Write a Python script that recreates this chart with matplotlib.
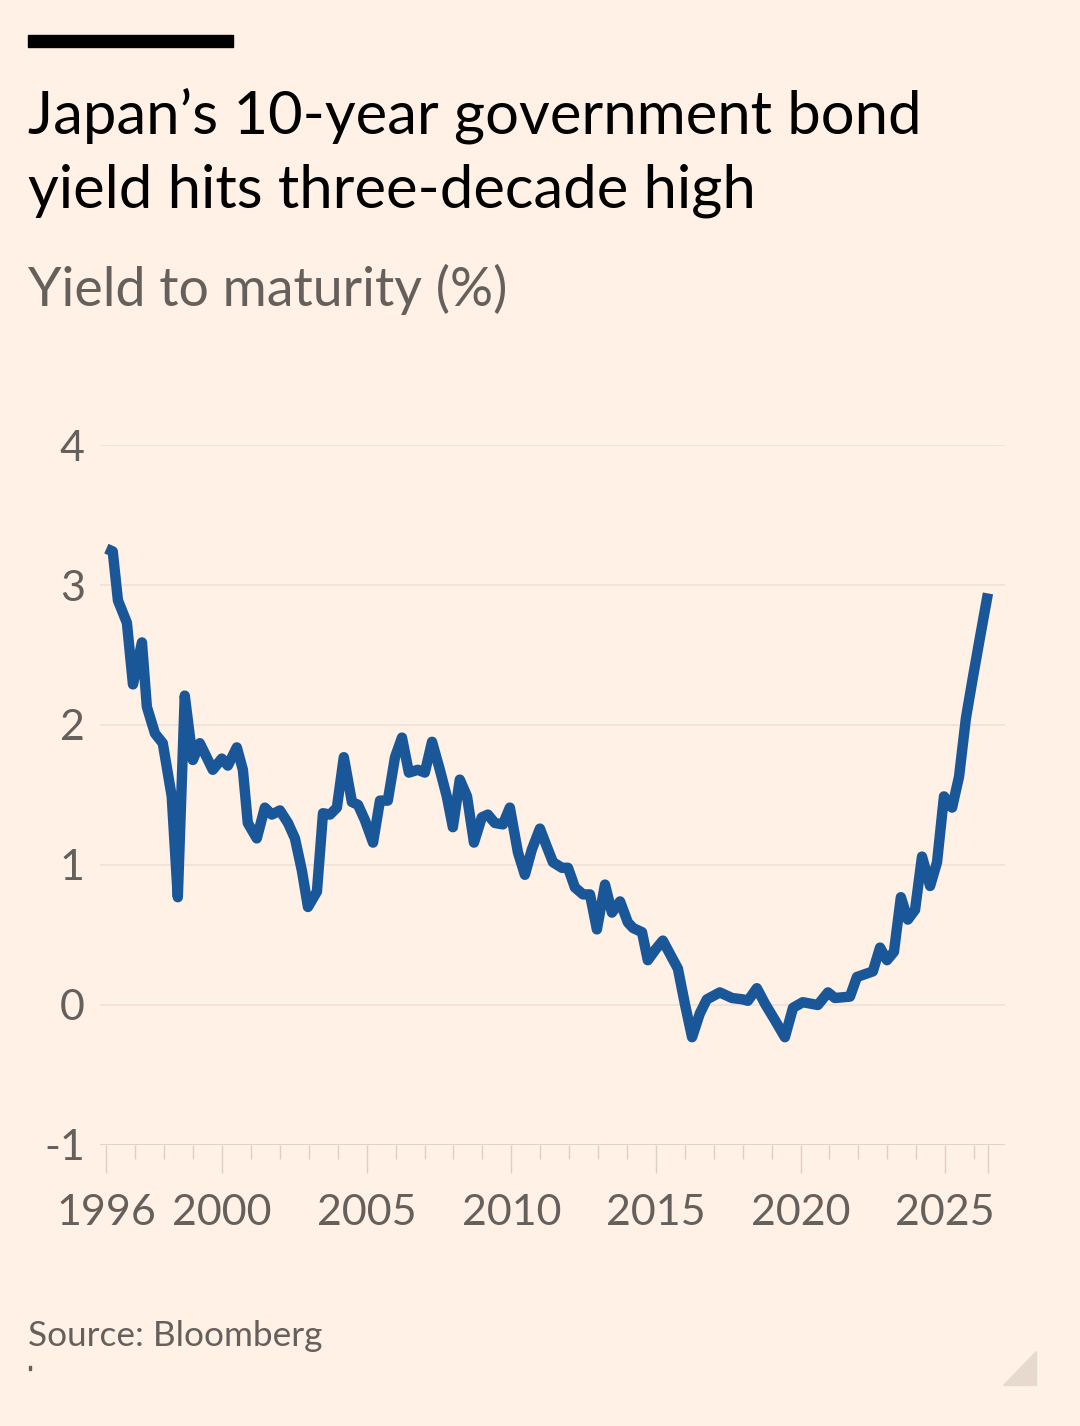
import matplotlib.pyplot as plt
from matplotlib.patches import Rectangle, Polygon

# quarterly-ish readings of the 10-year JGB yield (%)
years = [1996.00, 1996.22, 1996.40, 1996.71, 1996.92, 1997.23, 1997.40, 1997.68, 1997.95,
         1998.26, 1998.47, 1998.71, 1998.99, 1999.23, 1999.68, 1999.99, 2000.20, 2000.51,
         2000.72, 2000.89, 2001.20, 2001.48, 2001.72, 2002.00, 2002.28, 2002.52, 2002.76,
         2002.97, 2003.28, 2003.49, 2003.73, 2003.97, 2004.21, 2004.49, 2004.70, 2004.94,
         2005.22, 2005.46, 2005.73, 2005.98, 2006.22, 2006.46, 2006.77, 2007.01, 2007.26,
         2007.53, 2007.77, 2007.98, 2008.22, 2008.47, 2008.71, 2008.98, 2009.19, 2009.43,
         2009.71, 2009.95, 2010.23, 2010.47, 2010.71, 2010.99, 2011.23, 2011.44, 2011.75,
         2011.96, 2012.20, 2012.48, 2012.72, 2012.96, 2013.24, 2013.48, 2013.76, 2014.03,
         2014.21, 2014.52, 2014.72, 2015.00, 2015.24, 2015.55, 2015.76, 2016.00, 2016.25,
         2016.52, 2016.76, 2017.21, 2017.63, 2018.01, 2018.18, 2018.49, 2018.77, 2019.12,
         2019.46, 2019.74, 2020.08, 2020.60, 2020.95, 2021.19, 2021.71, 2021.95, 2022.50,
         2022.75, 2022.99, 2023.23, 2023.47, 2023.71, 2023.96, 2024.20, 2024.48, 2024.72,
         2024.96, 2025.24, 2025.48, 2025.72, 2025.96, 2026.20, 2026.48]
yields = [3.26, 3.24, 2.89, 2.73, 2.29, 2.59, 2.13, 1.94, 1.87,
          1.49, 0.77, 2.21, 1.75, 1.87, 1.68, 1.76, 1.71, 1.84,
          1.68, 1.30, 1.19, 1.41, 1.36, 1.39, 1.30, 1.19, 0.96,
          0.70, 0.81, 1.37, 1.36, 1.41, 1.77, 1.45, 1.43, 1.32,
          1.16, 1.46, 1.46, 1.77, 1.91, 1.66, 1.68, 1.66, 1.88,
          1.68, 1.49, 1.27, 1.61, 1.49, 1.16, 1.34, 1.36, 1.30,
          1.29, 1.41, 1.09, 0.93, 1.11, 1.26, 1.13, 1.02, 0.98,
          0.98, 0.84, 0.79, 0.79, 0.54, 0.86, 0.66, 0.74, 0.59,
          0.55, 0.52, 0.32, 0.40, 0.46, 0.34, 0.26, 0.01, -0.23,
          -0.06, 0.04, 0.09, 0.05, 0.04, 0.03, 0.12, 0.01, -0.11,
          -0.23, -0.02, 0.02, 0.00, 0.09, 0.05, 0.06, 0.20, 0.24,
          0.41, 0.32, 0.38, 0.77, 0.61, 0.68, 1.06, 0.85, 1.02,
          1.49, 1.41, 1.63, 2.05, 2.34, 2.62, 2.94]

y_ticks = [-1, 0, 1, 2, 3, 4]
x_labels = [1996, 2000, 2005, 2010, 2015, 2020, 2025]

bg = '#FFF1E5'
grey = '#66605C'
W, H = 1080, 1426

plt.rcParams['font.family'] = ['Lato', 'DejaVu Sans']

fig = plt.figure(figsize=(W / 100, H / 100), dpi=100, facecolor=bg)

def fx(x):
    return x / W

def fy(y):
    return 1 - y / H

ax = fig.add_axes([fx(100), fy(1145), fx(1005) - fx(100), fy(445) - fy(1145)])
ax.set_facecolor(bg)

ax.plot(years, yields, color='#1A5799', lw=7.5, solid_joinstyle='round',
        solid_capstyle='butt', zorder=3)

ax.set_ylim(-1, 4)
ax.set_xlim(1995.78, 2027.07)
ax.set_yticks(y_ticks)
ax.set_yticklabels([str(v) for v in y_ticks])
for v in y_ticks:
    ax.axhline(v, color='#D9CCC1' if v == -1 else '#EDE2D8', lw=1.2, zorder=1)

major = x_labels + [years[-1]]
ax.set_xticks(major)
ax.set_xticklabels([str(v) for v in x_labels] + [''])
ax.set_xticks([y for y in range(1997, 2027) if y not in x_labels], minor=True)

ax.tick_params(axis='x', which='major', length=20, width=1, color='#DCCFC4',
               labelsize=31, labelcolor=grey, pad=15)
ax.tick_params(axis='x', which='minor', length=10, width=1, color='#DCCFC4')
ax.tick_params(axis='y', length=0, labelsize=31, labelcolor=grey, pad=11)

for s in ax.spines.values():
    s.set_visible(False)

# header
fig.add_artist(Rectangle((fx(28), fy(47)), fx(233) - fx(28), fy(35) - fy(47),
                         color='black', transform=fig.transFigure))
fig.text(fx(28), fy(134), "Japan’s 10-year government bond", fontsize=43,
         color='black', ha='left', va='baseline')
fig.text(fx(28), fy(207), "yield hits three-decade high", fontsize=43,
         color='black', ha='left', va='baseline')
fig.text(fx(28), fy(306), "Yield to maturity (%)", fontsize=38.7,
         color=grey, ha='left', va='baseline')

# footer
fig.text(fx(28), fy(1346), "Source: Bloomberg", fontsize=25.3,
         color=grey, ha='left', va='baseline')
fig.add_artist(Rectangle((fx(29), fy(1370)), fx(2), fy(1366) - fy(1370),
                         color=grey, transform=fig.transFigure))
fig.add_artist(Polygon([(fx(1003), fy(1385)), (fx(1036), fy(1385)), (fx(1036), fy(1351))],
                       closed=True, color='#E6D9CE', transform=fig.transFigure))

plt.savefig('out.png', dpi=100, facecolor=bg)
